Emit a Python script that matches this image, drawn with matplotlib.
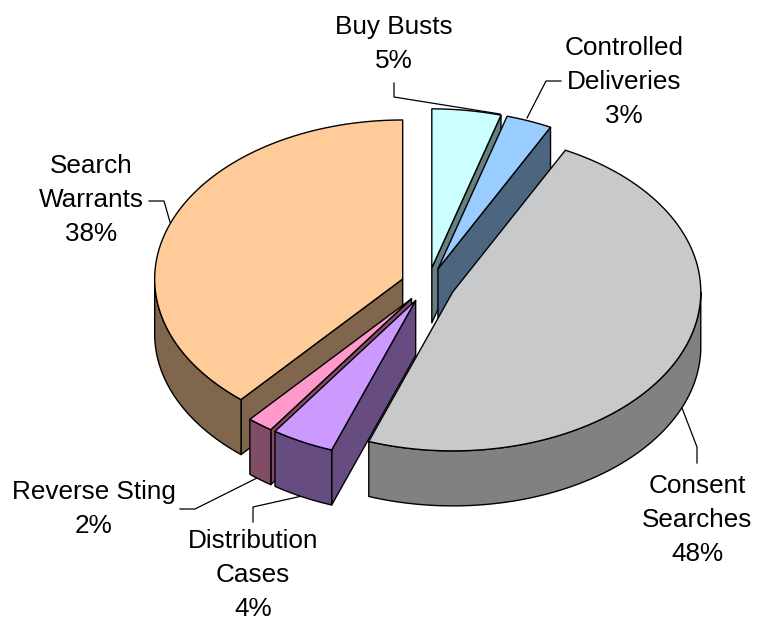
#
# Exploded 3D pie, the projection is done by hand since matplotlib has no 3D pie
#

import matplotlib
matplotlib.use("Agg")
import matplotlib.pyplot as plt
import numpy as np

# Clockwise from 12 o'clock
categories = ["Buy Busts", "Controlled\nDeliveries", "Consent\nSearches",
              "Distribution\nCases", "Reverse Sting", "Search\nWarrants"]
shares = [4.5, 3.0, 48.0, 4.1, 1.7, 38.7]
share_labels = ["5%", "3%", "48%", "4%", "2%", "38%"]

top_colors = ["#CCFFFF", "#99CCFF", "#C8C9CB", "#CC99FF", "#FF99CC", "#FFCC99"]
side_colors = ["#667F7F", "#4D667F", "#808183", "#664C80", "#804C66", "#80664C"]

# Back to front
draw_order = [0, 1, 5, 4, 3, 2]

# Pie geometry in pixels
CX, CY = 428, 285
RX, RY = 248, 159
DEPTH = 55
EXPLODE = 27

label_pos = [(394, 44), (624, 82), (697, 520), (253, 575), (94, 509), (91, 200)]
leaders = [
    [(394, 83), (394, 97), (500, 114)],
    [(561, 81), (546, 81), (527, 118)],
    [(697, 463), (697, 447), (682, 408)],
    [(253, 522), (253, 507), (302, 496)],
    [(180, 509), (195, 509), (259, 477)],
    [(149, 201), (164, 201), (170, 222)],
]


def ellipsePoints(ax_, ay_, start, end):
    """ Punkter på ellipsen, vinklar i grader medurs från klockan 12 """
    t = np.radians(np.linspace(start, end, max(int(abs(end - start)) * 2, 2)))
    return np.column_stack([ax_ + RX * np.sin(t), ay_ - RY * np.cos(t)])


def sideFace(points):
    """ Sidoyta: kurvan plus samma kurva DEPTH pixlar längre ner """
    lowered = points[::-1] + [0, DEPTH]
    return np.vstack([points, lowered])


def drawSlice(ax, i, start, end):
    mid = np.radians((start + end) / 2)
    ax_ = CX + EXPLODE * np.sin(mid)
    ay_ = CY - EXPLODE * np.cos(mid) * RY / RX
    apex = np.array([[ax_, ay_]])
    style = dict(facecolor=side_colors[i], edgecolor="black", linewidth=1.0, joinstyle="round")

    # Cut faces that turn towards the viewer
    if np.cos(np.radians(start - 90)) < -1e-6:
        ax.fill(*sideFace(np.vstack([apex, ellipsePoints(ax_, ay_, start, start)[:1]])).T, **style)
    if np.cos(np.radians(end + 90)) < -1e-6:
        ax.fill(*sideFace(np.vstack([apex, ellipsePoints(ax_, ay_, end, end)[:1]])).T, **style)

    # Outer rim, only the front half shows
    lo, hi = max(start, 90), min(end, 270)
    if hi > lo:
        ax.fill(*sideFace(ellipsePoints(ax_, ay_, lo, hi)).T, **style)

    top = np.vstack([apex, ellipsePoints(ax_, ay_, start, end)])
    ax.fill(*top.T, facecolor=top_colors[i], edgecolor="black", linewidth=1.0, joinstyle="round")


plt.rcParams["font.family"] = ["Liberation Sans", "DejaVu Sans"]

fig = plt.figure(figsize=(7.63, 6.22), dpi=100)
ax = fig.add_axes([0, 0, 1, 1])
ax.set_xlim(0, 763)
ax.set_ylim(622, 0)
ax.axis("off")

edges = np.concatenate([[0], np.cumsum(shares)]) / sum(shares) * 360

for line in leaders:
    xs, ys = zip(*line)
    ax.plot(xs, ys, color="black", linewidth=0.9, zorder=0)

for i in draw_order:
    drawSlice(ax, i, edges[i], edges[i + 1])

for name, pct, (x, y) in zip(categories, share_labels, label_pos):
    ax.text(x, y, f"{name}\n{pct}", ha="center", va="center", fontsize=18.8,
            linespacing=1.52, color="black")

fig.savefig("out.png", dpi=100)
